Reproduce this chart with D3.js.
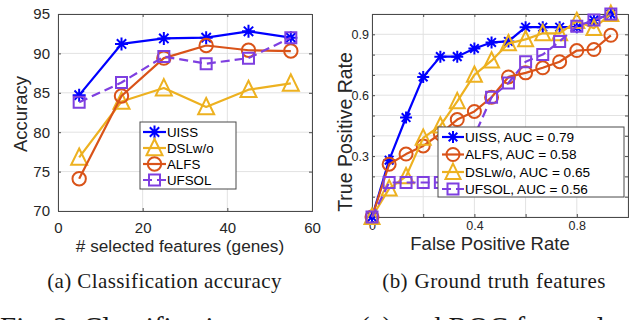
<!DOCTYPE html>
<html><head><meta charset="utf-8">
<script src="https://cdn.jsdelivr.net/npm/d3@7"></script>
<style>
html,body{margin:0;padding:0;background:#fff;overflow:hidden;}
svg{display:block;}
text{font-family:"Liberation Sans",Arial,sans-serif;}
.cap{font-family:"Liberation Serif","Times New Roman",serif;}
</style></head>
<body>
<svg id="c" width="640" height="320"></svg>
<script>
// ---------- Data: (a) classification accuracy ----------
const accFeatures = [5, 15, 25, 35, 45, 55];
const accUISS  = [84.7, 91.2, 91.9, 92.0, 92.8, 92.0];
const accDSL   = [76.8, 83.9, 85.6, 83.2, 85.4, 86.2];
const accALFS  = [74.1, 84.6, 89.4, 91.0, 90.4, 90.3];
const accUFSOL = [83.8, 86.3, 89.6, 88.7, 89.4, 92.0];
const accNames = ["UISS", "DSLw/o", "ALFS", "UFSOL"];
const accXTicks = [0, 20, 40, 60];
const accYTicks = [70, 75, 80, 85, 90, 95];

// ---------- Data: (b) ROC ----------
const rocFPR = [0, 0.067, 0.133, 0.2, 0.267, 0.333, 0.4, 0.467, 0.533, 0.6, 0.667, 0.733, 0.8, 0.867, 0.933];
const rocUISS  = [0, 0.28, 0.49, 0.69, 0.79, 0.79, 0.83, 0.86, 0.865, 0.935, 0.935, 0.935, 0.935, 0.97, 1.0];
const rocALFS  = [0, 0.26, 0.31, 0.35, 0.41, 0.48, 0.52, 0.59, 0.69, 0.71, 0.735, 0.765, 0.82, 0.825, 0.895];
const rocDSL   = [0, 0.14, 0.20, 0.39, 0.45, 0.57, 0.70, 0.77, 0.855, 0.875, 0.905, 0.905, 0.965, 0.93, 1.0];
const rocUFSOL = [0, 0.17, 0.17, 0.17, 0.17, 0.27, 0.40, 0.59, 0.66, 0.765, 0.80, 0.865, 0.94, 0.97, 1.0];
const rocNames = ["UISS, AUC = 0.79", "ALFS, AUC = 0.58", "DSLw/o, AUC = 0.65", "UFSOL, AUC = 0.56"];
const rocXTicks = [0, 0.2, 0.4, 0.6, 0.8, 1.0];
const rocXLabels = [0, 0.4, 0.8];
const rocYTicks = [0, 0.1, 0.2, 0.3, 0.4, 0.5, 0.6, 0.7, 0.8, 0.9, 1.0];
const rocYLabels = [0.3, 0.6, 0.9];

const captions = ["(a) Classification accuracy", "(b) Ground truth features"];
const figCaption = "Fig. 3: Classification accuracy (a) and ROC for evaluation of";

// ---------- styles ----------
const COL = {UISS:"#0000ff", DSL:"#EDB120", ALFS:"#D95319", UFSOL:"#7E3FE0"};
const svg = d3.select("#c");

function markerPath(type, s) {
  if (type === "star") {
    const r = s, d = s * 0.72;
    return `M0,${-r}L0,${r}M${-r},0L${r},0M${-d},${-d}L${d},${d}M${-d},${d}L${d},${-d}`;
  }
  if (type === "tri") {
    return `M0,${-s*1.12}L${s},${s*0.92}L${-s},${s*0.92}Z`;
  }
  if (type === "circle") {
    return d3.arc()({innerRadius:0, outerRadius:s, startAngle:0, endAngle:2*Math.PI});
  }
  if (type === "square") {
    return `M${-s},${-s}H${s}V${s}H${-s}Z`;
  }
}

function drawAxesFrame(g, x, y, o) {
  const [x0, x1] = x.range(), [y0, y1] = y.range();
  g.append("g").selectAll("line").data(o.xt).join("line")
    .attr("x1", d => x(d)).attr("x2", d => x(d)).attr("y1", y0).attr("y2", y1)
    .attr("stroke", "#e2e2e2").attr("stroke-width", 1);
  g.append("g").selectAll("line").data(o.yt).join("line")
    .attr("y1", d => y(d)).attr("y2", d => y(d)).attr("x1", x0).attr("x2", x1)
    .attr("stroke", "#e2e2e2").attr("stroke-width", 1);
  const has = (arr, d) => arr.some(v => Math.abs(v - d) < 1e-9);
  const ax = d3.axisBottom(x).tickValues(o.xt).tickSize(-3).tickPadding(o.xPad)
    .tickFormat(d => has(o.xl, d) ? o.xFmt(d) : "");
  const ay = d3.axisLeft(y).tickValues(o.yt).tickSize(-3).tickPadding(o.yPad)
    .tickFormat(d => has(o.yl, d) ? o.yFmt(d) : "");
  const gx = g.append("g").attr("transform", `translate(0,${y0})`).call(ax);
  const gy = g.append("g").attr("transform", `translate(${x0},0)`).call(ay);
  g.append("g").attr("transform", `translate(0,${y1})`).call(d3.axisTop(x).tickValues(o.xt).tickSize(-3).tickFormat(""));
  g.append("g").attr("transform", `translate(${x1},0)`).call(d3.axisRight(y).tickValues(o.yt).tickSize(-3).tickFormat(""));
  g.selectAll(".domain").attr("stroke", "#4a4a4a").attr("stroke-width", 1);
  g.selectAll(".tick line").attr("stroke", "#4a4a4a");
  [gx, gy].forEach(a => a.selectAll("text").attr("fill", "#262626").style("font-size", o.fs + "px")
      .style("font-family", '"Liberation Sans",Arial,sans-serif'));
}

function drawSeries(g, x, y, xs, ys, color, marker, msize, dashed) {
  const pts = xs.map((v, i) => [x(v), y(ys[i])]);
  g.append("path").attr("d", d3.line()(pts)).attr("fill", "none")
    .attr("stroke", color).attr("stroke-width", 2.2)
    .attr("stroke-dasharray", dashed ? "9,5" : null).attr("stroke-linejoin", "round");
  g.append("g").selectAll("path").data(pts).join("path")
    .attr("transform", d => `translate(${d[0]},${d[1]})`)
    .attr("d", markerPath(marker, msize)).attr("fill", "none")
    .attr("stroke", color).attr("stroke-width", 2);
}

function drawLegend(g, bx, by, bw, bh, rows, names, x0, x1, tx, rowY, fs) {
  g.append("rect").attr("x", bx).attr("y", by).attr("width", bw).attr("height", bh)
    .attr("fill", "#fff").attr("stroke", "#4a4a4a").attr("stroke-width", 1);
  rows.forEach((r, i) => {
    const yy = rowY[i];
    g.append("line").attr("x1", x0).attr("x2", x1).attr("y1", yy).attr("y2", yy)
      .attr("stroke", r.color).attr("stroke-width", 2.2).attr("stroke-dasharray", r.dashed ? "9,5" : null);
    g.append("path").attr("transform", `translate(${(x0 + x1) / 2},${yy})`)
      .attr("d", markerPath(r.marker, r.size)).attr("fill", "none").attr("stroke", r.color).attr("stroke-width", 2);
    g.append("text").attr("x", tx).attr("y", yy).attr("dy", "0.36em").text(names[i])
      .attr("fill", "#000").style("font-size", fs + "px");
  });
}

// ---------- Chart (a) ----------
{
  const g = svg.append("g");
  const x = d3.scaleLinear([0, 60], [58, 312]);
  const y = d3.scaleLinear([70, 95], [211, 14]);
  drawAxesFrame(g, x, y, {xt: accXTicks, yt: accYTicks, xl: accXTicks, yl: accYTicks,
    xFmt: d3.format("d"), yFmt: d3.format("d"), fs: 15, xPad: 11, yPad: 8});
  drawSeries(g, x, y, accFeatures, accUISS, COL.UISS, "star", 6.5, false);
  drawSeries(g, x, y, accFeatures, accDSL, COL.DSL, "tri", 8, false);
  drawSeries(g, x, y, accFeatures, accALFS, COL.ALFS, "circle", 6.7, false);
  drawSeries(g, x, y, accFeatures, accUFSOL, COL.UFSOL, "square", 5.5, true);
  g.append("text").attr("transform", "translate(20,114) rotate(-90)").attr("text-anchor", "middle")
    .attr("dy", "0.36em").text("Accuracy").attr("fill", "#262626").style("font-size", "18.5px");
  g.append("text").attr("x", 180).attr("y", 245.5).attr("text-anchor", "middle")
    .attr("dy", "0.36em").text("# selected features (genes)").attr("fill", "#262626").style("font-size", "17.2px");
  drawLegend(g, 140, 122, 96, 67, [
    {color: COL.UISS, marker: "star", size: 6.5},
    {color: COL.DSL, marker: "tri", size: 8},
    {color: COL.ALFS, marker: "circle", size: 6.7},
    {color: COL.UFSOL, marker: "square", size: 5.5, dashed: true}
  ], accNames, 143, 166, 167, [132, 148, 164, 180], 13.3);
}

// ---------- Chart (b) ----------
{
  const g = svg.append("g");
  const x = d3.scaleLinear([0, 1], [372, 628]);
  const y = d3.scaleLinear([0, 1], [217, 14]);
  drawAxesFrame(g, x, y, {xt: rocXTicks, yt: rocYTicks, xl: rocXLabels, yl: rocYLabels,
    xFmt: d => d === 0 ? "0" : d3.format(".1f")(d), yFmt: d3.format(".1f"), fs: 12.5, xPad: 4, yPad: 3});
  drawSeries(g, x, y, rocFPR, rocUISS, COL.UISS, "star", 6, false);
  drawSeries(g, x, y, rocFPR, rocALFS, COL.ALFS, "circle", 6.5, false);
  drawSeries(g, x, y, rocFPR, rocDSL, COL.DSL, "tri", 7.5, false);
  drawSeries(g, x, y, rocFPR, rocUFSOL, COL.UFSOL, "square", 5.5, true);
  g.append("text").attr("transform", "translate(345,132) rotate(-90)").attr("text-anchor", "middle")
    .attr("dy", "0.36em").text("True Positive Rate").attr("fill", "#262626").style("font-size", "19.5px");
  g.append("text").attr("x", 490).attr("y", 243).attr("text-anchor", "middle")
    .attr("dy", "0.36em").text("False Positive Rate").attr("fill", "#262626").style("font-size", "18.5px");
  drawLegend(g, 438, 127, 186, 70, [
    {color: COL.UISS, marker: "star", size: 6},
    {color: COL.ALFS, marker: "circle", size: 6.5},
    {color: COL.DSL, marker: "tri", size: 7.5},
    {color: COL.UFSOL, marker: "square", size: 5.5, dashed: true}
  ], rocNames, 442, 464, 465, [137, 154.5, 172, 189], 13.6);
}

// ---------- Captions ----------
svg.append("text").attr("class", "cap").attr("x", 164.5).attr("y", 287.5).attr("text-anchor", "middle")
  .text(captions[0]).attr("fill", "#1a1a1a").style("font-size", "21px").style("letter-spacing", "0.4px");
svg.append("text").attr("class", "cap").attr("x", 494).attr("y", 287.5).attr("text-anchor", "middle")
  .text(captions[1]).attr("fill", "#1a1a1a").style("font-size", "21px").style("letter-spacing", "0.4px")
  .style("word-spacing", "1px");
svg.append("text").attr("class", "cap").attr("x", 0).attr("y", 337)
  .text(figCaption).attr("fill", "#1a1a1a").style("font-size", "29px");
</script>
</body></html>
